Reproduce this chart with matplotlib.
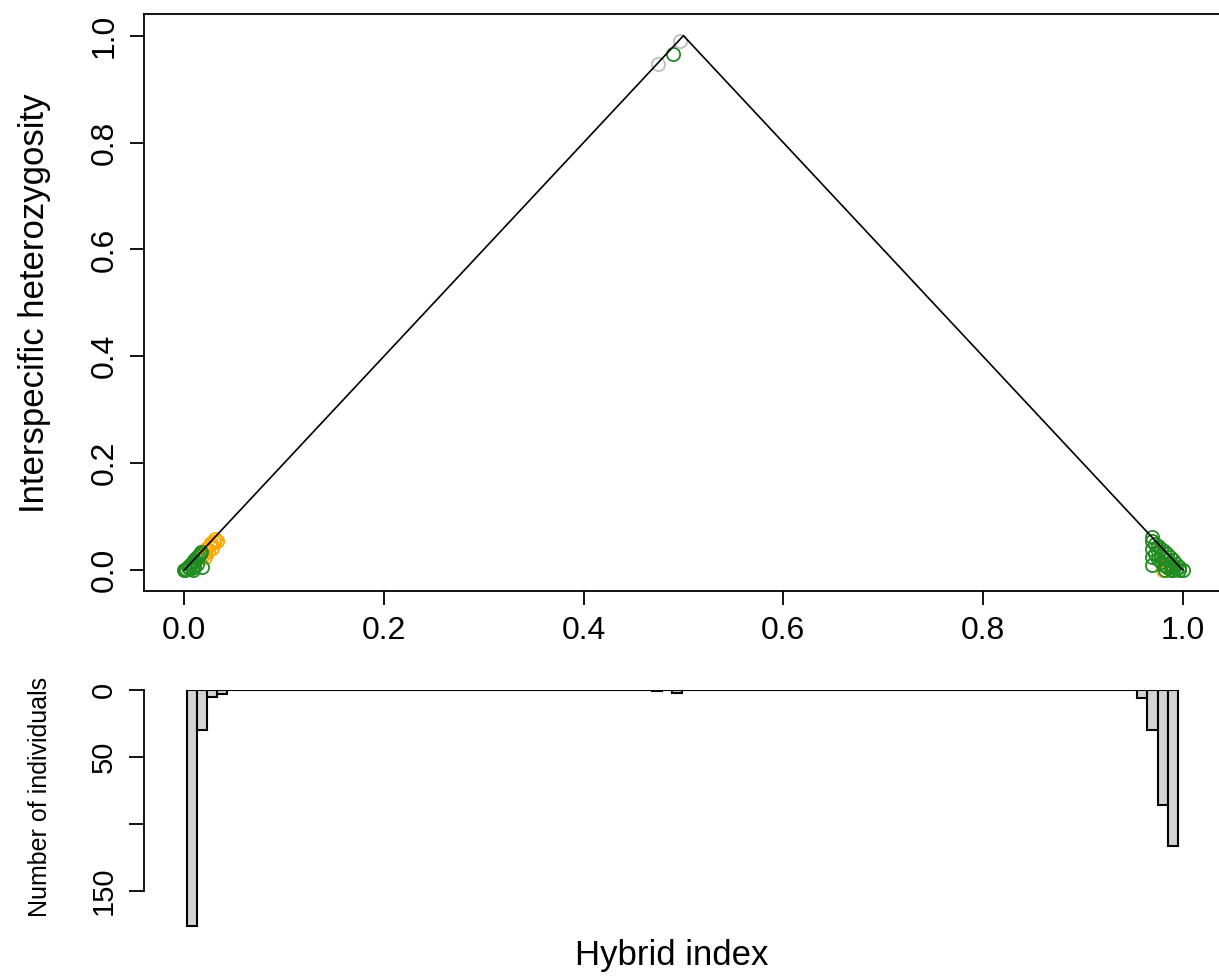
import matplotlib
matplotlib.use("Agg")
import matplotlib.pyplot as plt

plt.rcParams['font.family'] = ['Liberation Sans', 'DejaVu Sans']

# triangle: maximum heterozygosity for a given hybrid index
tri_x = [0.0, 0.5, 1.0]
tri_y = [0.0, 1.0, 0.0]

# individuals (hybrid index, interspecific heterozygosity)
orange_x = [0.015, 0.018, 0.020, 0.022, 0.024, 0.026, 0.028, 0.030, 0.031, 0.033, 0.027, 0.021,
            0.980, 0.985, 0.983]
orange_y = [0.028, 0.034, 0.030, 0.040, 0.036, 0.046, 0.042, 0.052, 0.058, 0.055, 0.050, 0.024,
            0.000, 0.003, 0.010]

green_x = [0.000, 0.002, 0.004, 0.005, 0.006, 0.008, 0.008, 0.010, 0.010, 0.009, 0.012, 0.014,
           0.016, 0.018, 0.013, 0.011, 0.017, 0.001,
           0.490,
           0.969, 0.969, 0.969, 0.969, 0.969, 0.972, 0.972, 0.975, 0.975, 0.975, 0.978, 0.978,
           0.978, 0.981, 0.981, 0.981, 0.984, 0.984, 0.984, 0.987, 0.987, 0.990, 0.990, 0.990,
           0.993, 0.993, 0.996, 0.996, 1.000, 0.982, 0.988]
green_y = [0.000, 0.002, 0.006, 0.003, 0.010, 0.004, 0.014, 0.008, 0.018, 0.000, 0.022, 0.026,
           0.030, 0.006, 0.012, 0.016, 0.034, 0.000,
           0.966,
           0.010, 0.025, 0.040, 0.055, 0.062, 0.048, 0.030, 0.045, 0.035, 0.020, 0.040, 0.028,
           0.015, 0.035, 0.022, 0.010, 0.030, 0.018, 0.005, 0.025, 0.012, 0.018, 0.006, 0.000,
           0.012, 0.002, 0.006, 0.000, 0.000, 0.000, 0.000]

grey_x = [0.475, 0.497]
grey_y = [0.947, 0.990]

# histogram of hybrid index
bin_start = 0.0024
bin_width = 0.01013
hist_counts = [176, 30, 5, 3] + [0] * 42 + [1, 0, 2] + [0] * 45 + [6, 30, 86, 116]
bin_left = [bin_start + bin_width * k for k in range(len(hist_counts))]

W, H = 1219, 976
fig = plt.figure(figsize=(W / 100, H / 100), dpi=100)

# ---- top panel
ax = fig.add_axes([144.3 / W, 1 - 591.4 / H, 1078.3 / W, 577.1 / H])
ax.plot(orange_x, orange_y, 'o', mfc='none', mec='#FFA500', ms=9.5, mew=1.3)
ax.plot(green_x, green_y, 'o', mfc='none', mec='#228B22', ms=9.5, mew=1.3)
ax.plot(grey_x, grey_y, 'o', mfc='none', mec='#BEBEBE', ms=9.5, mew=1.3)
ax.plot(tri_x, tri_y, '-', color='black', lw=1.2)
ax.set_xlim(-0.04, 1.04)
ax.set_ylim(-0.04, 1.04)
ax.set_xticks([0.0, 0.2, 0.4, 0.6, 0.8, 1.0])
ax.set_xticklabels(['0.0', '0.2', '0.4', '0.6', '0.8', '1.0'])
ax.set_yticks([0.0, 0.2, 0.4, 0.6, 0.8, 1.0])
ax.set_yticklabels(['0.0', '0.2', '0.4', '0.6', '0.8', '1.0'], rotation=90, va='center')
ax.tick_params(axis='both', labelsize=23, length=10, width=1.3, pad=8)
for s in ax.spines.values():
    s.set_linewidth(1.3)

fig.text(35 / W, 1 - 303 / H, 'Interspecific heterozygosity', rotation=90,
         ha='center', va='center', fontsize=25)

# ---- histogram panel (downward)
axh = fig.add_axes([144.3 / W, 1 - 938 / H, 1078.3 / W, 248 / H])
axh.bar(bin_left, hist_counts, width=bin_width, align='edge', color='#D3D3D3',
        edgecolor='black', linewidth=1.5)
axh.set_xlim(-0.04, 1.04)
axh.set_ylim(185, 0)
for side in ['top', 'right', 'bottom']:
    axh.spines[side].set_visible(False)
axh.spines['left'].set_bounds(0, 150)
axh.spines['left'].set_linewidth(1.3)
axh.set_xticks([])
axh.set_yticks([0, 50, 100, 150])
axh.set_yticklabels(['0', '50', '', '150'], rotation=90, va='center')
axh.tick_params(axis='y', labelsize=21, length=11, width=1.3, pad=8)

fig.text(40 / W, 1 - 797 / H, 'Number of individuals', rotation=90,
         ha='center', va='center', fontsize=18)
fig.text(672 / W, 1 - 955 / H, 'Hybrid index', ha='center', va='center', fontsize=25)

fig.savefig('out.png', dpi=100)
